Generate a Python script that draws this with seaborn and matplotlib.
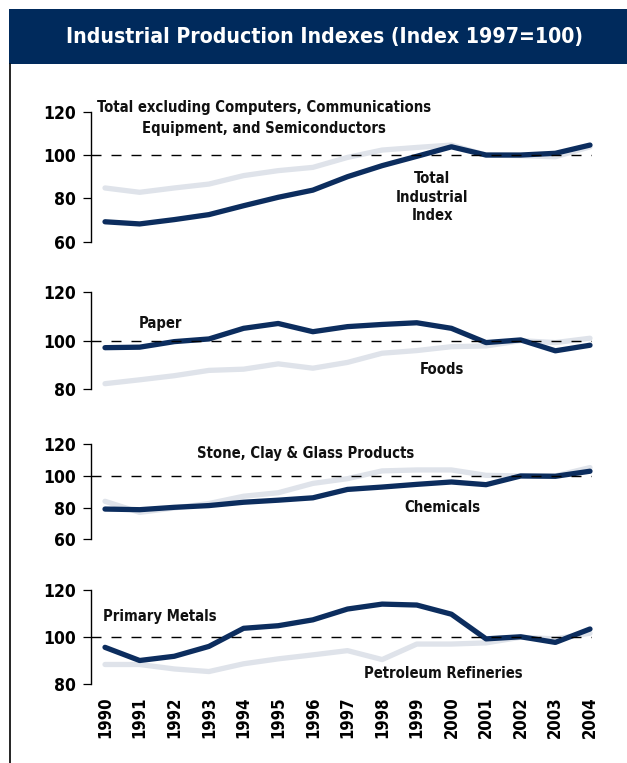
import matplotlib
matplotlib.use("Agg")
import matplotlib.pyplot as plt
import pandas as pd
import seaborn as sns
from matplotlib.patches import Rectangle
from matplotlib.lines import Line2D

# ---- data -------------------------------------------------------------
years = list(range(1990, 2005))
year_labels = [str(y) for y in years]

total_industrial = [69.2, 68.2, 70.2, 72.5, 76.6, 80.5, 83.8, 90.0, 95.1,
                    99.4, 103.8, 100.0, 100.0, 100.8, 104.6]
total_ex_high_tech = [84.8, 82.8, 84.8, 86.6, 90.5, 92.8, 94.3, 98.9, 102.3,
                      103.5, 104.6, 100.0, 99.7, 99.2, 103.8]

paper = [97.1, 97.3, 99.6, 100.7, 105.1, 107.1, 103.7, 105.8, 106.7,
         107.4, 105.1, 99.2, 100.3, 95.8, 98.1]
foods = [82.2, 83.8, 85.5, 87.7, 88.2, 90.4, 88.6, 91.0, 94.8,
         95.9, 97.5, 97.8, 100.0, 99.2, 101.0]

chemicals = [79.1, 78.7, 80.2, 81.3, 83.4, 84.7, 86.2, 91.5, 93.0,
             94.7, 96.2, 94.5, 100.0, 99.8, 103.0]
stone_clay_glass = [84.0, 77.0, 79.8, 82.6, 87.2, 89.4, 95.3, 98.3, 103.2,
                    103.8, 103.8, 100.4, 100.0, 100.0, 105.3]

primary_metals = [95.6, 90.0, 91.8, 96.0, 103.7, 104.8, 107.3, 111.9, 114.0,
                  113.6, 109.7, 99.2, 100.1, 97.7, 103.4]
petroleum_refineries = [88.3, 88.3, 86.4, 85.3, 88.6, 90.7, 92.4, 94.2, 90.4,
                        97.0, 97.0, 97.5, 99.9, 99.2, 101.6]

title = "Industrial Production Indexes (Index 1997=100)"

# ---- style ------------------------------------------------------------
NAVY = "#002a5c"
DARK = "#0c2d5e"
LIGHT = "#dfe3ea"

sns.set_theme(style="white")
plt.rcParams["font.family"] = ["DejaVu Sans"]
plt.rcParams["font.stretch"] = "condensed"
plt.rcParams["font.weight"] = "bold"
plt.rcParams["text.color"] = "black"
plt.rcParams["xtick.color"] = "black"
plt.rcParams["ytick.color"] = "black"

W, H = 627, 763
fig = plt.figure(figsize=(W / 100, H / 100), dpi=100)


def fx(px):
    return px / W


def fy(px):
    return 1 - px / H


# header band and left rule
fig.add_artist(Rectangle((fx(9), fy(64)), fx(W - 9), (64 - 9) / H,
                         transform=fig.transFigure, facecolor=NAVY,
                         edgecolor="none"))
fig.add_artist(Line2D([fx(10), fx(10)], [fy(64), 0], transform=fig.transFigure,
                      color="black", linewidth=1.2))
fig.text(fx(324), fy(37), title, color="white", fontsize=15.2,
         fontweight="bold", fontstretch="condensed", ha="center", va="center")

# panel layout and the series / captions drawn in each
panels = [
    dict(top=111.7, bottom=241.7, ylim=(60, 120), ticks=[60, 80, 100, 120],
         dark=total_industrial, light=total_ex_high_tech,
         labels=[("Total excluding Computers, Communications\n"
                  "Equipment, and Semiconductors", 1994.6, 117.0, 1.55),
                 ("Total\nIndustrial\nIndex", 1999.45, 80.6, 1.3)]),
    dict(top=292.3, bottom=389.0, ylim=(80, 120), ticks=[80, 100, 120],
         dark=paper, light=foods,
         labels=[("Paper", 1991.6, 107.3, 1.2), ("Foods", 1999.73, 87.9, 1.2)]),
    dict(top=444.3, bottom=539.3, ylim=(60, 120), ticks=[60, 80, 100, 120],
         dark=chemicals, light=stone_clay_glass,
         labels=[("Stone, Clay & Glass Products", 1995.8, 114.5, 1.2),
                 ("Chemicals", 1999.73, 80.4, 1.2)]),
    dict(top=590.0, bottom=684.0, ylim=(80, 120), ticks=[80, 100, 120],
         dark=primary_metals, light=petroleum_refineries,
         labels=[("Primary Metals", 1991.57, 108.9, 1.2),
                 ("Petroleum Refineries", 1999.76, 84.3, 1.2)]),
]

left_px, right_px = 90.7, 592.0
xlim = (1989.587, 2004.058)

for i, p in enumerate(panels):
    ax = fig.add_axes([fx(left_px), fy(p["bottom"]),
                       (right_px - left_px) / W, (p["bottom"] - p["top"]) / H])
    ax.set_facecolor("none")
    df = pd.DataFrame({"year": years, "dark": p["dark"], "light": p["light"]})
    sns.lineplot(data=df, x="year", y="light", ax=ax, color=LIGHT,
                 linewidth=3.8, solid_capstyle="round", clip_on=False,
                 zorder=2)
    sns.lineplot(data=df, x="year", y="dark", ax=ax, color=DARK,
                 linewidth=3.8, solid_capstyle="round", clip_on=False,
                 zorder=3)
    ax.axhline(100, color="black", linewidth=1.0,
               linestyle=(0, (7.2, 7.2)), zorder=4)

    ax.set_xlim(*xlim)
    ax.set_ylim(*p["ylim"])
    ax.set_yticks(p["ticks"])
    ax.set_yticklabels([str(t) for t in p["ticks"]], fontweight="bold",
                       fontstretch="condensed")
    ax.tick_params(axis="y", direction="out", length=5.8, width=0.9,
                   colors="black", labelsize=12.5, pad=5, left=True)
    ax.set_xlabel("")
    ax.set_ylabel("")
    for side in ("top", "right", "bottom"):
        ax.spines[side].set_visible(False)
    ax.spines["left"].set_color("black")
    ax.spines["left"].set_linewidth(1.0)
    ax.spines["left"].set_bounds(*p["ylim"])

    ax.set_xticks(years)
    if i == len(panels) - 1:
        ax.set_xticklabels(year_labels, rotation=90, fontsize=12,
                           fontweight="bold", fontstretch="condensed")
        ax.tick_params(axis="x", length=0, pad=9, colors="black")
    else:
        ax.tick_params(axis="x", length=0, labelbottom=False)

    for text, x, y, spacing in p["labels"]:
        ax.text(x, y, text, ha="center", va="center", fontsize=10.6,
                fontweight="bold", fontstretch="condensed", color="#111111",
                linespacing=spacing)

fig.savefig("out.png", dpi=100)
